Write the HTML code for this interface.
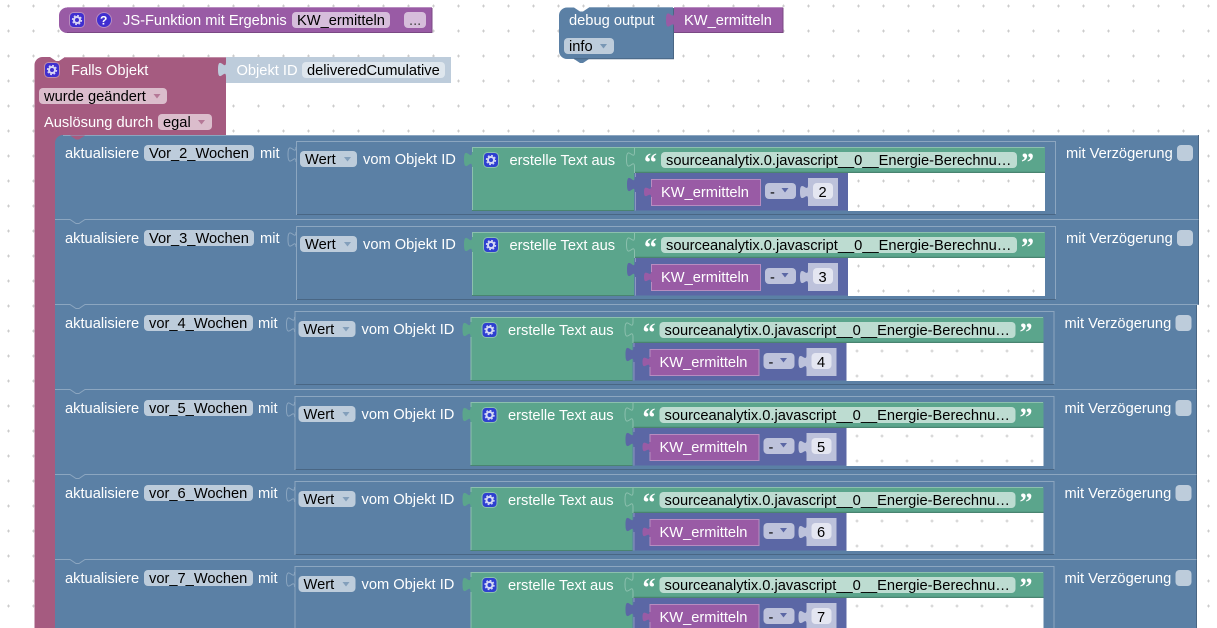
<!DOCTYPE html>
<html><head><meta charset="utf-8"><style>
html,body{margin:0;padding:0;background:#fff;width:1217px;height:628px;overflow:hidden}
svg{display:block}
text{font-family:"Liberation Sans",Arial,sans-serif;font-size:14.67px;fill:#fff;white-space:pre}
text.d{fill:#000}
</style></head><body>
<svg width="1217" height="628" viewBox="0 0 1217 628" xmlns="http://www.w3.org/2000/svg">
<defs>
<pattern id="grid" x="0" y="0" width="25" height="25" patternUnits="userSpaceOnUse">
<path d="M8.5 5.5v3M7 7h3" transform="translate(0,-1)" stroke="#ccc" stroke-width="1" fill="none"/>
</pattern>
<g id="gear" opacity=".8"><circle r="3" fill="none" stroke="#fff" stroke-width="2"/><circle r="4.500" fill="none" stroke="#fff" stroke-width="1.300" stroke-dasharray="1.800 1.730"/></g>
<g id="inner">
<!-- value block -->
<rect x="296" y="141" width="760" height="74" fill="#5b80a5"/>
<path d="M296.500 214.500H1055.500" fill="none" stroke="#496684"/>
<path d="M296.500 215V141.500H1055.500V214" fill="none" stroke="#8ca6c0"/>
<!-- socket in parent -->
<path d="M296 147c0 10 -8 -8 -8 7.500s8 -2.500 8 7.500" fill="#5b80a5" stroke="#8ca6c0"/>
<rect x="300" y="151" width="57" height="16" rx="4" fill="#bdccdb"/>
<path d="M344 157h7l-3.500 4.500z" fill="#5b80a5" opacity=".6"/>
<!-- green text join -->
<path d="M472 147H634V210.500H472V167c0 -10 -8 8 -8 -7.500s8 2.500 8 -7.500z" fill="#5ba58c"/>
<path d="M472.500 152V147.500H634M472.500 167V210.500" fill="none" stroke="#8cc0ae"/>
<path d="M472 210.500H634" stroke="#498470"/>
<rect x="483.500" y="152.500" width="15" height="15" rx="4" fill="#2e3fd0" stroke="#8cc0ae"/>
<use href="#gear" x="491" y="160"/>
<!-- string block -->
<rect x="634" y="147" width="411" height="26" fill="#5ba58c"/>
<path d="M634.500 147.500H1044.500" stroke="#8cc0ae"/>
<path d="M634 172.500H1045" stroke="#498470" stroke-width="1.500"/>
<path d="M634.500 147V152c0 10 -8 -8 -8 7.500s8 -2.500 8 7.500V173" fill="none" stroke="#8cc0ae"/>
<rect x="661" y="152" width="356" height="16" rx="4" fill="#bddcd1"/>
<!-- white hole -->
<rect x="848" y="173" width="197" height="38" fill="#fff"/>
<rect x="848" y="173" width="197" height="38" fill="url(#grid)"/>
<!-- math block -->
<path d="M635 173H848V210.500H635V192c0 -10 -8 8 -8 -7.500s8 2.500 8 -7.500z" fill="#5b67a5"/>
<path d="M635.500 173V177M635.500 192V210.500" stroke="#8c95c0" fill="none"/>
<!-- KW call -->
<path d="M651 179H760.500V205.500H651V197c0 -7 -7 5 -7 -5s7 1 7 -5z" fill="#995ba5"/>
<path d="M651.500 187V179.500H760.500V205.500H651.500V197" fill="none" stroke="#b88cc0"/>
<rect x="765" y="183" width="31" height="16" rx="4" fill="#bdc2db"/>
<path d="M781.500 188h7l-3.500 4.500z" fill="#5b67a5"/>
<path d="M808 178H838V206H808V199c0 -9 -8 7 -8 -7s8 2 8 -7z" fill="#bdc2db"/>
<rect x="813" y="183" width="20" height="16" rx="4" fill="#e4e6f1"/>
<rect x="1177" y="145" width="16" height="16" rx="4" fill="#bdccdb"/>
</g>
</defs>

<rect width="1217" height="628" fill="#fff"/>
<rect width="1217" height="628" fill="url(#grid)"/>

<!-- JS function -->
<path d="M67 7.500H432V33H67a8 8 0 0 1-8-8V15.500a8 8 0 0 1 8-8z" fill="#995ba5"/>
<path d="M67 7.500H432" stroke="#b88cc0"/><path d="M67 32.500H432V8" stroke="#7a4984" fill="none"/>
<rect x="69.500" y="12.500" width="15" height="15" rx="4" fill="#3f2ed0" stroke="#b88cc0"/>
<use href="#gear" x="77" y="20"/>
<circle cx="104" cy="20" r="7.500" fill="#3f2ed0" stroke="#b88cc0"/>
<text x="100" y="24.500" style="font-size:12px;font-weight:bold">?</text>
<text x="123" y="25">JS-Funktion mit Ergebnis</text>
<rect x="292" y="12" width="98" height="16" rx="4" fill="#d6bddb"/>
<text class="d" x="297" y="25">KW_ermitteln</text>
<rect x="404" y="12" width="22" height="16" rx="4" fill="#d6bddb"/>
<text x="409" y="25" style="fill:#444">...</text>

<!-- debug -->
<path d="M567 7.500H574l6 4h3l6-4H673V59H589l-6 4h-3l-6-4H567a8 8 0 0 1-8-8V15.500a8 8 0 0 1 8-8z" fill="#5b80a5"/>
<path d="M589 7.500H673" stroke="#8ca6c0"/><path d="M574 58.700H673.500V8" stroke="#496684" fill="none"/>
<text x="569" y="25">debug output</text>
<rect x="564" y="38" width="50" height="16" rx="4" fill="#bdccdb"/>
<text class="d" x="569" y="51">info</text>
<path d="M600 44h7l-3.500 4.500z" fill="#5b80a5" opacity=".7"/>
<path d="M674 7.500H783V33H674V27.500c0 -10 -8 8 -8 -7.500s8 2.500 8 -7.500z" fill="#995ba5"/>
<path d="M674 7.500H783" stroke="#b88cc0"/><path d="M674 32.500H783V8" stroke="#7a4984" fill="none"/>
<text x="684" y="25">KW_ermitteln</text>

<!-- Falls Objekt -->
<path d="M42.500 57H50l6 4h3l6-4H226V135H64V144H55V628H34.500V65a8 8 0 0 1 8-8z" fill="#a55b80"/>
<path d="M65 57.500H226" stroke="#c08ca6"/>
<rect x="44.500" y="62.500" width="15" height="15" rx="4" fill="#3f2ed0" stroke="#c08ca6"/>
<use href="#gear" x="52" y="70"/>
<text x="71" y="75">Falls Objekt</text>
<rect x="39" y="88" width="128" height="16" rx="4" fill="#dbbdcc"/>
<text class="d" x="44" y="101">wurde geändert</text>
<path d="M153.500 94h7l-3.500 4.500z" fill="#a55b80" opacity=".7"/>
<text x="44" y="127">Auslösung durch</text>
<rect x="158" y="114" width="54" height="16" rx="4" fill="#dbbdcc"/>
<text class="d" x="163" y="127">egal</text>
<path d="M198 120h7l-3.500 4.500z" fill="#a55b80" opacity=".7"/>
<path d="M226 57H451V83H226V77c0 -10 -8 8 -8 -7.500s8 2.500 8 -7.500z" fill="#bdccdb"/>
<text x="236.500" y="75">Objekt ID</text>
<rect x="302" y="62" width="143" height="16" rx="4" fill="#dee6ed"/>
<text class="d" x="307" y="75">deliveredCumulative</text>

<!-- Row 1 -->
<g>
<path d="M63 135H1198.500V220H55V143a8 8 0 0 1 8-8z" fill="#5b80a5"/>
<path d="M63 135.500H1198.500" fill="none" stroke="#8ca6c0"/>
<path d="M1198.500 135V220" fill="none" stroke="#496684"/>
<path d="M70 135.500l6 4h3l6-4z" fill="#a55b80"/>
<use href="#inner"/>
<text x="65" y="158">aktualisiere</text>
<rect x="144" y="145" width="110" height="16" rx="4" fill="#bdccdb"/>
<text class="d" x="149" y="158">Vor_2_Wochen</text>
<text x="260" y="158">mit</text>
<text class="d" x="305" y="164">Wert</text>
<text x="363" y="164">vom Objekt ID</text>
<text x="509.500" y="165">erstelle Text aus</text>
<text x="644" y="171" style="font-size:26px;font-family:'Liberation Serif',serif;font-weight:bold">“</text>
<text class="d" x="666" y="165">sourceanalytix.0.javascript__0__Energie-Berechnu…</text>
<text x="1021" y="171" style="font-size:26px;font-family:'Liberation Serif',serif;font-weight:bold">”</text>
<text x="661" y="197">KW_ermitteln</text>
<text class="d" x="770" y="197">-</text>
<text class="d" x="818.500" y="197">2</text>
<text x="1066" y="158">mit Verzögerung</text>
</g>

<!-- Row 2 -->
<g transform="translate(0,85)">
<path d="M55 135H1198.500V220H55z" fill="#5b80a5"/>
<path d="M55 134.500H70l6 4h3l6-4H1198.500" fill="#5b80a5" stroke="#8ca6c0"/>
<path d="M1198.500 135V220" fill="none" stroke="#496684"/>
<use href="#inner"/>
<text x="65" y="158">aktualisiere</text>
<rect x="144" y="145" width="110" height="16" rx="4" fill="#bdccdb"/>
<text class="d" x="149" y="158">Vor_3_Wochen</text>
<text x="260" y="158">mit</text>
<text class="d" x="305" y="164">Wert</text>
<text x="363" y="164">vom Objekt ID</text>
<text x="509.500" y="165">erstelle Text aus</text>
<text x="644" y="171" style="font-size:26px;font-family:'Liberation Serif',serif;font-weight:bold">“</text>
<text class="d" x="666" y="165">sourceanalytix.0.javascript__0__Energie-Berechnu…</text>
<text x="1021" y="171" style="font-size:26px;font-family:'Liberation Serif',serif;font-weight:bold">”</text>
<text x="661" y="197">KW_ermitteln</text>
<text class="d" x="770" y="197">-</text>
<text class="d" x="818.500" y="197">3</text>
<text x="1066" y="158">mit Verzögerung</text>
</g>

<!-- Row 3 -->
<g transform="translate(0,170)">
<path d="M55 135H1196.500V220H55z" fill="#5b80a5"/>
<path d="M55 134.500H70l6 4h3l6-4H1198.500" fill="#5b80a5" stroke="#8ca6c0"/>
<path d="M1196.500 135V220" fill="none" stroke="#496684"/>
<use href="#inner" x="-1.500"/>
<text x="65" y="158">aktualisiere</text>
<rect x="144" y="145" width="109" height="16" rx="4" fill="#bdccdb"/>
<text class="d" x="149" y="158">vor_4_Wochen</text>
<text x="258" y="158">mit</text>
<g transform="translate(-1.500,0)">
<text class="d" x="305" y="164">Wert</text>
<text x="363" y="164">vom Objekt ID</text>
<text x="509.500" y="165">erstelle Text aus</text>
<text x="644" y="171" style="font-size:26px;font-family:'Liberation Serif',serif;font-weight:bold">“</text>
<text class="d" x="666" y="165">sourceanalytix.0.javascript__0__Energie-Berechnu…</text>
<text x="1021" y="171" style="font-size:26px;font-family:'Liberation Serif',serif;font-weight:bold">”</text>
<text x="661" y="197">KW_ermitteln</text>
<text class="d" x="770" y="197">-</text>
<text class="d" x="818.500" y="197">4</text>
<text x="1066" y="158">mit Verzögerung</text>
</g>
</g>

<!-- Row 4 -->
<g transform="translate(0,255)">
<path d="M55 135H1196.500V220H55z" fill="#5b80a5"/>
<path d="M55 134.500H70l6 4h3l6-4H1196.500" fill="#5b80a5" stroke="#8ca6c0"/>
<path d="M1196.500 135V220" fill="none" stroke="#496684"/>
<use href="#inner" x="-1.500"/>
<text x="65" y="158">aktualisiere</text>
<rect x="144" y="145" width="109" height="16" rx="4" fill="#bdccdb"/>
<text class="d" x="149" y="158">vor_5_Wochen</text>
<text x="258" y="158">mit</text>
<g transform="translate(-1.500,0)">
<text class="d" x="305" y="164">Wert</text>
<text x="363" y="164">vom Objekt ID</text>
<text x="509.500" y="165">erstelle Text aus</text>
<text x="644" y="171" style="font-size:26px;font-family:'Liberation Serif',serif;font-weight:bold">“</text>
<text class="d" x="666" y="165">sourceanalytix.0.javascript__0__Energie-Berechnu…</text>
<text x="1021" y="171" style="font-size:26px;font-family:'Liberation Serif',serif;font-weight:bold">”</text>
<text x="661" y="197">KW_ermitteln</text>
<text class="d" x="770" y="197">-</text>
<text class="d" x="818.500" y="197">5</text>
<text x="1066" y="158">mit Verzögerung</text>
</g>
</g>

<!-- Row 5 -->
<g transform="translate(0,340)">
<path d="M55 135H1196.500V220H55z" fill="#5b80a5"/>
<path d="M55 134.500H70l6 4h3l6-4H1196.500" fill="#5b80a5" stroke="#8ca6c0"/>
<path d="M1196.500 135V220" fill="none" stroke="#496684"/>
<use href="#inner" x="-1.500"/>
<text x="65" y="158">aktualisiere</text>
<rect x="144" y="145" width="109" height="16" rx="4" fill="#bdccdb"/>
<text class="d" x="149" y="158">vor_6_Wochen</text>
<text x="258" y="158">mit</text>
<g transform="translate(-1.500,0)">
<text class="d" x="305" y="164">Wert</text>
<text x="363" y="164">vom Objekt ID</text>
<text x="509.500" y="165">erstelle Text aus</text>
<text x="644" y="171" style="font-size:26px;font-family:'Liberation Serif',serif;font-weight:bold">“</text>
<text class="d" x="666" y="165">sourceanalytix.0.javascript__0__Energie-Berechnu…</text>
<text x="1021" y="171" style="font-size:26px;font-family:'Liberation Serif',serif;font-weight:bold">”</text>
<text x="661" y="197">KW_ermitteln</text>
<text class="d" x="770" y="197">-</text>
<text class="d" x="818.500" y="197">6</text>
<text x="1066" y="158">mit Verzögerung</text>
</g>
</g>

<!-- Row 6 -->
<g transform="translate(0,425)">
<path d="M55 135H1196.500V220H55z" fill="#5b80a5"/>
<path d="M55 134.500H70l6 4h3l6-4H1196.500" fill="#5b80a5" stroke="#8ca6c0"/>
<path d="M1196.500 135V220" fill="none" stroke="#496684"/>
<use href="#inner" x="-1.500"/>
<text x="65" y="158">aktualisiere</text>
<rect x="144" y="145" width="109" height="16" rx="4" fill="#bdccdb"/>
<text class="d" x="149" y="158">vor_7_Wochen</text>
<text x="258" y="158">mit</text>
<g transform="translate(-1.500,0)">
<text class="d" x="305" y="164">Wert</text>
<text x="363" y="164">vom Objekt ID</text>
<text x="509.500" y="165">erstelle Text aus</text>
<text x="644" y="171" style="font-size:26px;font-family:'Liberation Serif',serif;font-weight:bold">“</text>
<text class="d" x="666" y="165">sourceanalytix.0.javascript__0__Energie-Berechnu…</text>
<text x="1021" y="171" style="font-size:26px;font-family:'Liberation Serif',serif;font-weight:bold">”</text>
<text x="661" y="197">KW_ermitteln</text>
<text class="d" x="770" y="197">-</text>
<text class="d" x="818.500" y="197">7</text>
<text x="1066" y="158">mit Verzögerung</text>
</g>
</g>
</svg>
</body></html>
